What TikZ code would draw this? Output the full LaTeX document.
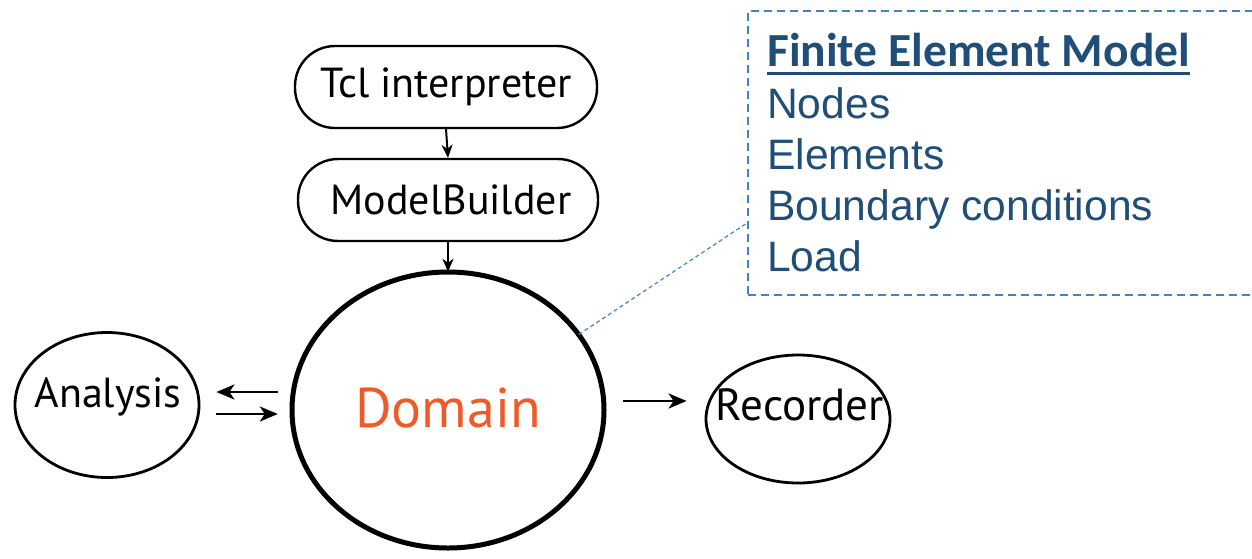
\documentclass[tikz,border=0pt]{standalone}
\usepackage{fontspec}
\usetikzlibrary{arrows.meta,calc,shapes.geometric}
\newfontfamily\diagfont{PT Sans}
\newfontfamily\listfont{Liberation Sans}
\newfontfamily\headfont{Carlito}
\definecolor{fembluetext}{RGB}{31,78,121}
\definecolor{femblueline}{RGB}{68,130,200}
\definecolor{domainorange}{RGB}{240,90,40}
\begin{document}
\begin{tikzpicture}[x=1pt,y=-1pt,
  stadium/.style={draw,line width=2.4pt,rounded corners=40pt,inner sep=0pt,
    minimum height=82pt,font=\diagfont\fontsize{42}{50}\selectfont},
  blob/.style={draw,ellipse,line width=2.8pt,inner sep=0pt},
  arr/.style={line width=2.6pt,-{Stealth[length=18pt,width=15pt,inset=5pt]}},
  smallarr/.style={line width=2pt,-{Stealth[length=13pt,width=11pt,inset=4pt]}},
  femline/.style={font=\listfont\fontsize{42.6}{50}\selectfont,text=fembluetext,
    inner sep=0pt,anchor=base west}]
\useasboundingbox (0,0) rectangle (1252,558);

% pipeline boxes
\node[stadium,minimum width=302pt] (tcl) at (446,87) {Tcl interpreter};
\node[stadium,minimum width=300pt] (mb) at (448,200) {\hspace*{6pt}ModelBuilder};

% central domain
\draw[line width=5pt] (448,410) ellipse [x radius=156, y radius=138];
\node[inner sep=0pt,minimum width=312pt,minimum height=276pt,ellipse] (domain) at (448,410) {};
\node[text=domainorange,font=\diagfont\fontsize{56}{64}\selectfont] (dlabel) at (448,408) {Domain};

% side components
\node[blob,minimum width=184pt,minimum height=145pt] (analysis) at (107,405) {};
\node[font=\diagfont\fontsize{42}{50}\selectfont] (alabel) at (108,397) {Analysis};
\node[blob,minimum width=184pt,minimum height=128pt] (recorder) at (798,419) {};
\node[font=\diagfont\fontsize{45}{52}\selectfont] (rlabel) at (800,405) {Recorder};

% connectors
\draw[smallarr] (tcl.south) -- (mb.north);
\draw[smallarr] (mb.south) -- (domain.north);
\draw[arr,shorten <=14pt,shorten >=16pt] (domain.west |- 0,392) -- (analysis.east |- 0,392);
\draw[arr,shorten <=16pt,shorten >=14pt] (analysis.east |- 0,414) -- (domain.west |- 0,414);
\draw[arr,shorten <=19pt,shorten >=18pt] (domain.east |- 0,401) -- (recorder.west |- 0,401);

% finite element model callout
\node[draw=femblueline,line width=2pt,dash pattern=on 8pt off 5pt,
  minimum width=520pt,minimum height=284pt,inner sep=0pt,anchor=north west] (fem) at (747,10) {};
\draw[femblueline,line width=1.2pt,dash pattern=on 4pt off 3pt] (domain.30) -- (fem.west |- 0,223);

\node[femline,font=\headfont\bfseries\fontsize{47.5}{55}\selectfont] (title) at (767,66) {Finite Element Model};
\draw[fembluetext,line width=3pt] ([yshift=-7pt]title.base west) -- ([yshift=-7pt]title.base east);
\node[femline] (n1) at (767,118) {Nodes};
\node[femline] (n2) at (767,169) {Elements};
\node[femline] (n3) at (767,220) {Boundary conditions};
\node[femline] (n4) at (767,271) {Load};
\end{tikzpicture}
\end{document}
